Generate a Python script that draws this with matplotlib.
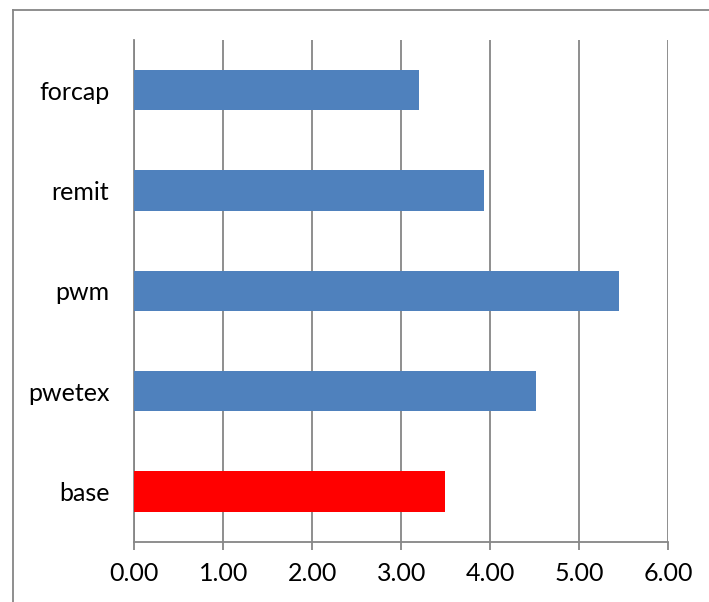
import matplotlib
matplotlib.use("Agg")
import matplotlib.pyplot as plt
from matplotlib.lines import Line2D

plt.rcParams["font.family"] = ["Lato", "DejaVu Sans"]

# Runs, bottom to top
runs = ["base", "pwetex", "pwm", "remit", "forcap"]
values = [3.49, 4.51, 5.45, 3.93, 3.20]
colors = ["#FF0000", "#4F81BD", "#4F81BD", "#4F81BD", "#4F81BD"]
xticks = [0, 1, 2, 3, 4, 5, 6]

grey = "#868686"

fig = plt.figure(figsize=(7.09, 6.02), dpi=100)
ax = fig.add_axes([0.1894, 0.1002, 0.7532, 0.8334])

ax.barh(range(len(runs)), values, height=0.4, color=colors, zorder=3)

ax.set_xlim(0, 6)
ax.set_ylim(-0.5, len(runs) - 0.5)
ax.set_xticks(xticks)
ax.set_xticklabels([f"{t:.2f}" for t in xticks])
ax.set_yticks(range(len(runs)))
ax.set_yticklabels(runs)

ax.grid(axis="x", color=grey, linewidth=1.3, zorder=0)
ax.tick_params(axis="x", length=5.8, width=1.3, color=grey, pad=9, labelsize=18)
ax.tick_params(axis="y", length=0, pad=18, labelsize=18)

for side in ["top", "right"]:
    ax.spines[side].set_visible(False)
for side in ["left", "bottom"]:
    ax.spines[side].set_color(grey)
    ax.spines[side].set_linewidth(1.3)

# chart area border (top and left edges)
fig.add_artist(Line2D([13 / 709, 1], [1 - 10 / 602] * 2, color=grey, linewidth=1.3))
fig.add_artist(Line2D([13 / 709] * 2, [0, 1 - 10 / 602], color=grey, linewidth=1.3))

fig.savefig("out.png", dpi=100)
